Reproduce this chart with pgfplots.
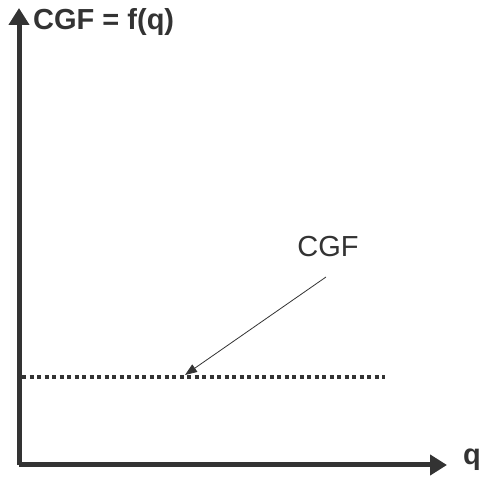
\documentclass[border=0pt]{standalone}
\usepackage{pgfplots}
\pgfplotsset{compat=1.18}
\usetikzlibrary{arrows.meta}
\usepackage{fontspec}
\setmainfont{Liberation Sans}
\definecolor{ink}{HTML}{333333}

\begin{document}
\begin{tikzpicture}
\begin{axis}[
  scale only axis,
  width=428pt, height=457pt,
  xmin=0, xmax=428, ymin=0, ymax=457,
  axis lines=left,
  ticks=none,
  clip=false,
  axis line style={ink, line width=5pt, -{Triangle[length=17pt,width=20pt]}},
]
% horizontal level of the CGF
\addplot[ink, line width=3.3pt, dash pattern=on 4pt off 3.5pt]
  coordinates {(3,88) (366,88)};
% pointer from the label to the line
\addplot[ink, line width=0.8pt, -{Triangle[length=12pt,width=9pt]}]
  coordinates {(307,188) (166,90)};
\node[ink, font=\fontsize{29}{33}\selectfont] at (axis cs:309,218) {CGF};
\node[ink, anchor=west, inner sep=0pt, font=\fontsize{29}{33}\selectfont\bfseries]
  at (axis cs:14,443) {CGF = f(q)};
\node[ink, anchor=west, inner sep=0pt, font=\fontsize{29}{33}\selectfont\bfseries]
  at (axis cs:444,5) {q};
\coordinate (bl) at (axis cs:-19,-13);
\coordinate (tr) at (axis cs:462,465);
\end{axis}
\pgfresetboundingbox
\path (bl) rectangle (tr);
\end{tikzpicture}
\end{document}
